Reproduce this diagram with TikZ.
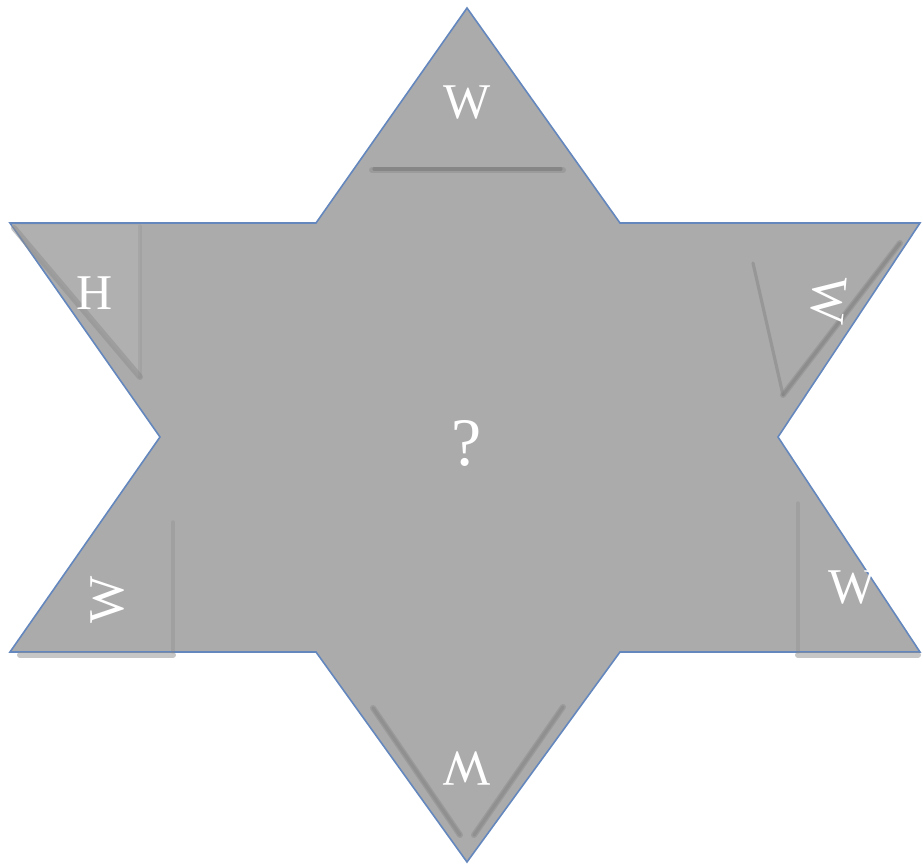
\documentclass[tikz,border=0pt]{standalone}
\usepackage{fontspec}
\setmainfont{Liberation Serif}
\usetikzlibrary{positioning}
\definecolor{stargray}{RGB}{171,171,171}
\definecolor{staredge}{RGB}{100,135,190}
\definecolor{foldgray}{RGB}{128,128,128}
\tikzset{
  letter/.style={text=white,font=\fontsize{25}{27}\selectfont,inner sep=0pt},
  fold/.style={foldgray,line width=1.6pt,line cap=round,opacity=0.75},
  foldsoft/.style={foldgray!70!stargray,line width=3pt,line cap=round,opacity=0.5}
}

\begin{document}
\begin{tikzpicture}[x=0.5pt,y=-0.5pt]
  \useasboundingbox (0,0) rectangle (923,867);
  % Star body
  \fill[stargray] (467,8) -- (620,223) -- (920,223) -- (778,437) -- (920,652)
    -- (620,652) -- (467,862) -- (316,652) -- (10,652) -- (160,437)
    -- (10,223) -- (316,223) -- cycle;
  \draw[staredge,line width=0.8pt,line join=miter] (467,8) -- (620,223) -- (920,223)
    -- (778,437) -- (920,652) -- (620,652) -- (467,862) -- (316,652)
    -- (10,652) -- (160,437) -- (10,223) -- (316,223) -- cycle;
  %
  % Top flap
  \draw[foldsoft] (372,170) -- (563,170);
  \draw[fold] (374,169) -- (561,169);
  % Upper-left flap
  \fill[stargray!94!white] (12,225) -- (140,225) -- (140,377) -- cycle;
  \draw[foldsoft] (14,228) -- (140,377);
  \draw[fold,opacity=0.2] (140,226) -- (140,377);
  % Upper-right flap
  \draw[fold,opacity=0.45] (753,263) -- (783,395);
  \draw[foldsoft] (783,395) -- (900,243);
  \draw[fold,opacity=0.5] (783,395) -- (900,243);
  % Lower-left flap
  \draw[fold,opacity=0.25] (173,522) -- (173,652);
  \draw[foldsoft] (20,655) -- (173,655);
  % Lower-right flap
  \draw[fold,opacity=0.25] (798,503) -- (798,652);
  \draw[foldsoft] (798,655) -- (918,655);
  % Bottom flap
  \draw[foldsoft] (373,708) -- (460,835);
  \draw[foldsoft] (563,707) -- (474,835);
  \draw[fold,opacity=0.4] (373,708) -- (460,835);
  \draw[fold,opacity=0.4] (563,707) -- (474,835);
  %
  % Letters
  \node[letter] (top) at (467,103) {W};
  \node[letter] (upleft) at (95,293) {H};
  \node[letter,rotate=-95] (upright) at (828,300) {W};
  \node[letter,font=\fontsize{34}{36}\selectfont] (centre) at (467,443) {?};
  \node[letter,rotate=90] (lowleft) at (108,600) {W};
  \node[letter] (lowright) at (852,588) {W};
  \node[letter,rotate=180] (bottom) at (467,768) {W};
\end{tikzpicture}
\end{document}
